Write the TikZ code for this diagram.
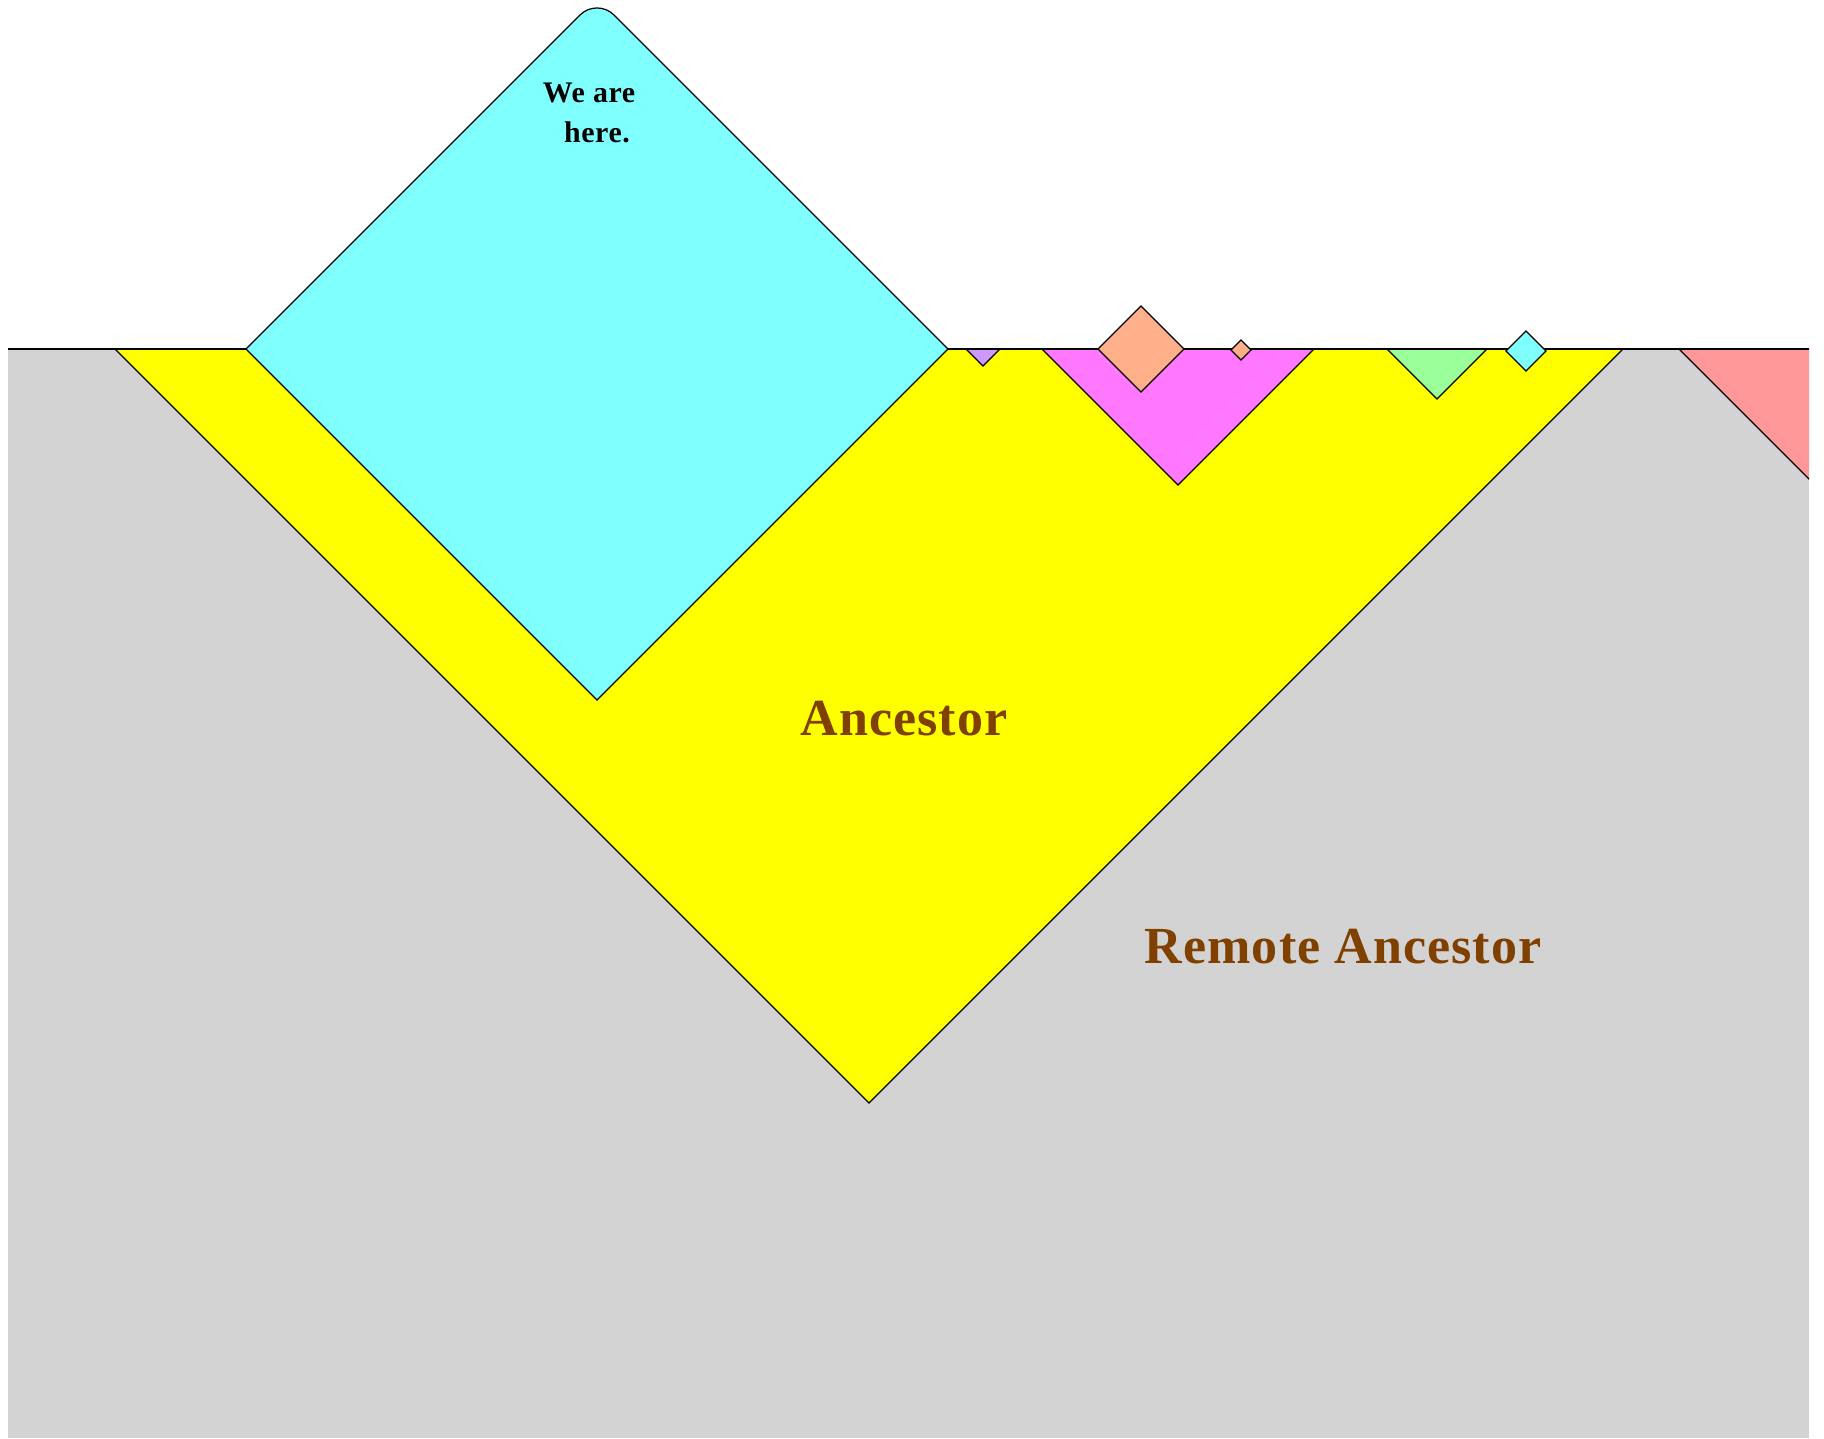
\documentclass[tikz,border=0pt]{standalone}
\usepackage{fontspec}
\setmainfont{Liberation Serif}
\newfontfamily\conefont[LetterSpace=2]{Liberation Serif}
\definecolor{groundgray}{HTML}{D3D3D3}
\definecolor{ancyellow}{HTML}{FFFF00}
\definecolor{herecyan}{HTML}{80FFFF}
\definecolor{lavender}{HTML}{CC99FF}
\definecolor{pinkmag}{HTML}{FF78FF}
\definecolor{salmon}{HTML}{FFB08A}
\definecolor{mint}{HTML}{99FF99}
\definecolor{rose}{HTML}{FF9999}
\definecolor{ancbrown}{HTML}{804000}
\begin{document}
\begin{tikzpicture}[x=0.01cm, y=-0.01cm,
    ground/.style={fill=groundgray},
    cone/.style={draw=black, line width=0.35pt},
    note/.style={font=\conefont\bfseries\fontsize{8.5}{10}\selectfont, text=black, inner sep=0pt, anchor=base},
    title/.style={font=\conefont\bfseries\fontsize{14.8}{17}\selectfont, text=ancbrown, inner sep=0pt, anchor=base}
]
\fill[white] (0,0) rectangle (1824,1438);
\useasboundingbox (0,0) rectangle (1824,1438);
% remote ancestor ground
\fill[ground] (8,349) rectangle (1809,1438);
% ancestor cone
\draw[cone, fill=ancyellow] (115,349) -- (869,1103) -- (1623,349) -- cycle;
% small cones
\draw[cone, fill=lavender] (966,349) -- (983,366) -- (1000,349) -- cycle;
\draw[cone, fill=pinkmag] (1042,349) -- (1178,485) -- (1314,349) -- cycle;
\draw[cone, fill=mint] (1387,349) -- (1437,399) -- (1487,349) -- cycle;
\begin{scope}
  \clip (8,0) rectangle (1809,1438);
  \draw[cone, fill=rose] (1679,349) -- (1900,570) -- (2121,349) -- cycle;
\end{scope}
% horizon
\draw[cone] (8,349) -- (1809,349);
% we are here
\draw[cone, fill=herecyan] (246,349) -- (580,15) .. controls (589.4,5.6) and (604.6,5.6) .. (614,15) -- (948,349) -- (597,700) -- cycle;
% diamonds over the horizon
\draw[cone, fill=salmon] (1098,349) -- (1141,306) -- (1184,349) -- (1141,392) -- cycle;
\draw[cone, fill=salmon] (1231,350) -- (1241,340) -- (1251,350) -- (1241,360) -- cycle;
\draw[cone, fill=herecyan] (1506,351) -- (1526,331) -- (1546,351) -- (1526,371) -- cycle;
% labels
\node[note] (weare) at (589,102) {We are};
\node[note] (here) at (597,142) {here.};
\node[title] (anc) at (904,735) {Ancestor};
\node[title] (remote) at (1343,963) {Remote Ancestor};
\end{tikzpicture}
\end{document}
